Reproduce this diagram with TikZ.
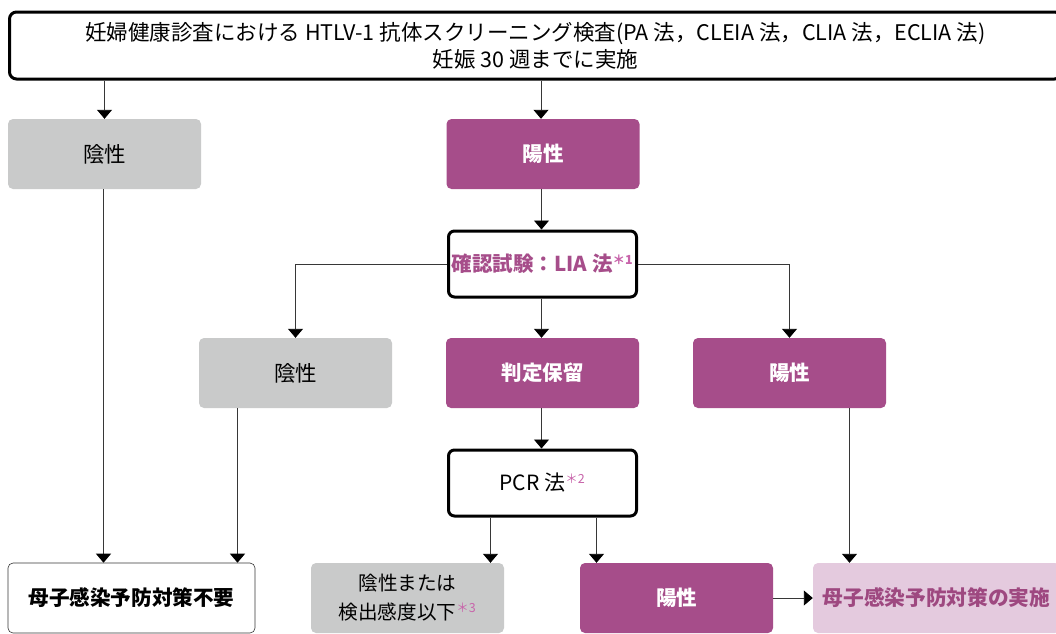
\documentclass[tikz,border=0pt]{standalone}
\usepackage{fontspec}
\setmainfont{Noto Sans CJK JP}
\usetikzlibrary{arrows.meta,positioning}
\definecolor{pur}{RGB}{166,77,138}
\definecolor{gry}{RGB}{201,202,202}
\definecolor{lpink}{RGB}{228,202,222}
\definecolor{ptext}{RGB}{158,72,128}
\definecolor{astc}{RGB}{200,100,170}
\definecolor{lin}{RGB}{55,55,55}
\newcommand{\fnmk}[1]{\textsuperscript{\textcolor{astc}{\fontsize{12.5}{12}\selectfont ＊#1}}}
\tikzset{
  box/.style={minimum width=193pt,minimum height=70pt,inner sep=0pt,rounded corners=5pt,align=center},
  gbox/.style={box,fill=gry,text=black,font=\fontsize{21.5}{26}\selectfont},
  pbox/.style={box,fill=pur,text=white,font=\fontsize{20.5}{24}\selectfont\bfseries},
  kbox/.style={draw=black,line width=3pt,rounded corners=6pt,fill=white,minimum width=188pt,minimum height=66pt,inner sep=0pt,align=center},
  arr/.style={draw=lin,line width=0.9pt,-{Triangle[width=15pt,length=9pt,fill=black,color=black]}}
}
\begin{document}
\begin{tikzpicture}[x=1pt,y=-1pt]
\useasboundingbox (0,0) rectangle (1056,633);
\clip (0,0) rectangle (1056,633);
\node[draw=black,line width=3pt,rounded corners=7pt,minimum width=1052pt,minimum height=67pt,inner sep=0pt,align=center,font=\fontsize{21.5}{27}\selectfont] (top) at (535.5,45.5)
  {妊婦健康診査における HTLV-1 抗体スクリーニング検査(PA 法，CLEIA 法，CLIA 法，ECLIA 法)\\妊娠 30 週までに実施};
\node[gbox] (neg1) at (104.5,154) {陰性};
\node[pbox] (pos1) at (543,154) {陽性};
\node[kbox,text=pur,font=\fontsize{20.5}{24}\selectfont\bfseries] (lia) at (542.5,264) {確認試験：LIA 法\fnmk{1}};
\node[gbox] (neg2) at (295.5,373) {陰性};
\node[pbox] (hold) at (542.5,373) {判定保留};
\node[pbox] (pos2) at (789.5,373) {陽性};
\node[kbox,font=\fontsize{21}{24}\selectfont] (pcr) at (542.5,483) {PCR 法\fnmk{2}};
\node[box,draw=lin,line width=0.6pt,fill=white,minimum width=247pt,font=\fontsize{20.6}{24}\selectfont\bfseries] (none) at (131.5,598) {母子感染予防対策不要};
\node[gbox,font=\fontsize{19.6}{29}\selectfont] (negor) at (407.5,598) {陰性または\\検出感度以下\fnmk{3}};
\node[pbox] (pos3) at (676.5,598) {陽性};
\node[box,fill=lpink,text=ptext,minimum width=247pt,font=\fontsize{20.7}{24}\selectfont\bfseries] (impl) at (936.5,598) {母子感染予防対策の実施};
\draw[arr] (neg1 |- top.south) -- (neg1.north);
\draw[arr] ([xshift=-2pt]pos1.north |- top.south) -- ([xshift=-2pt]pos1.north);
\draw[arr] ([xshift=-1.5pt]pos1.south) -- ([xshift=-1.5pt]pos1.south |- lia.north);
\draw[arr] (lia.west) -| (neg2.north);
\draw[arr] (lia.east) -| (pos2.north);
\draw[arr] ([xshift=-1pt]lia.south) -- ([xshift=-1pt]lia.south |- hold.north);
\draw[arr] ([xshift=-1pt]hold.south) -- ([xshift=-1pt]hold.south |- pcr.north);
\draw[arr] ([xshift=-1pt]neg1.south) -- ([xshift=-1pt]neg1.south |- none.north);
\draw[arr] ([xshift=-58pt]neg2.south) -- ([xshift=-58pt]neg2.south |- none.north);
\coordinate (pcrL) at ([xshift=-52pt]pcr.south);
\coordinate (pcrR) at ([xshift=54pt]pcr.south);
\draw[arr] (pcrL) -- (pcrL |- negor.north);
\draw[arr] (pcrR) -- (pcrR |- pos3.north);
\draw[arr] ([xshift=60pt]pos2.south) -- ([xshift=60pt]pos2.south |- impl.north);
\draw[arr] (pos3.east) -- (impl.west);
\end{tikzpicture}
\end{document}
